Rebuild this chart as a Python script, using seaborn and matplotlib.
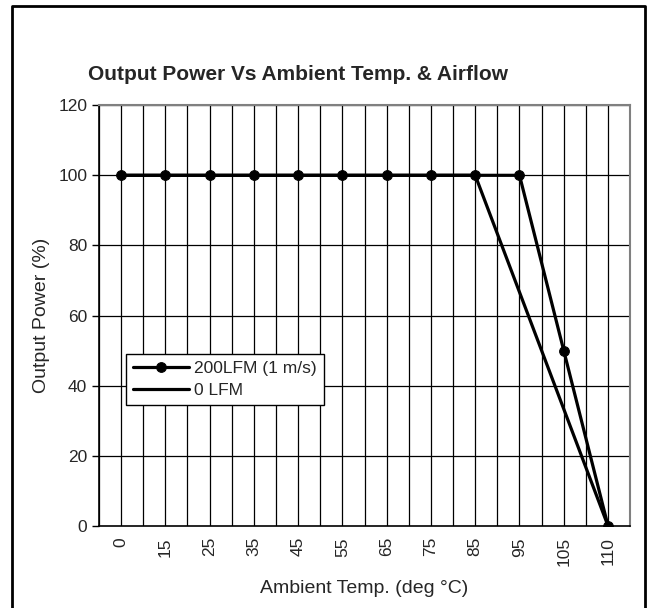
import numpy as np
import pandas as pd
import matplotlib
matplotlib.use("Agg")
import matplotlib.pyplot as plt
import seaborn as sns

temps = ["0", "15", "25", "35", "45", "55", "65", "75", "85", "95", "105", "110"]
power_200lfm = [100, 100, 100, 100, 100, 100, 100, 100, 100, 100, 50, 0]
power_0lfm = [100, 100, 100, 100, 100, 100, 100, 100, 100, np.nan, np.nan, 0]


def build_frame():
    idx = np.arange(len(temps))
    df1 = pd.DataFrame({"pos": idx, "power": power_200lfm, "series": "200LFM (1 m/s)"})
    df2 = pd.DataFrame({"pos": idx, "power": power_0lfm, "series": "0 LFM"}).dropna()
    return df1, df2


def plot_data(df1, df2):
    sns.set_style("white")
    plt.rcParams["font.family"] = ["Liberation Sans", "DejaVu Sans"]
    fig = plt.figure(figsize=(6.51, 6.08), dpi=100)
    ax = fig.add_axes([0.152, 0.135, 0.816, 0.692])

    sns.lineplot(data=df1, x="pos", y="power", ax=ax, color="black", lw=2.3,
                 marker="o", markersize=7, markeredgecolor="black",
                 label="200LFM (1 m/s)", zorder=4)
    sns.lineplot(data=df2, x="pos", y="power", ax=ax, color="black", lw=2.3,
                 label="0 LFM", zorder=3)

    n = len(temps)
    ax.set_xlim(-0.5, n - 0.5)
    ax.set_ylim(0, 120)
    ax.set_yticks(range(0, 121, 20))
    ax.set_xticks(np.arange(n))
    ax.set_xticklabels(temps, rotation=90, fontsize=12.5)
    ax.set_xticks(np.arange(-0.5, n, 1.0), minor=True)
    ax.tick_params(axis="x", which="major", length=0, pad=8)
    ax.tick_params(axis="x", which="minor", length=5, width=1, direction="out", color="black")
    ax.tick_params(axis="y", length=5, width=1, direction="out", labelsize=12.5, color="black", left=True)

    for x in np.arange(-0.5, n, 0.5):
        ax.axvline(x, color="black", lw=0.9, zorder=1)
    for y in range(20, 121, 20):
        ax.axhline(y, color="black", lw=0.9, zorder=1)

    for s in ["left", "bottom"]:
        ax.spines[s].set_color("black")
        ax.spines[s].set_linewidth(1.2)
    for s in ["top", "right"]:
        ax.spines[s].set_visible(True)
        ax.spines[s].set_color("#808080")
        ax.spines[s].set_linewidth(1.5)

    ax.set_xlabel("Ambient Temp. (deg °C)", fontsize=14, labelpad=10)
    ax.set_ylabel("Output Power (%)", fontsize=14, labelpad=6)
    fig.text(0.135, 0.877, "Output Power Vs Ambient Temp. & Airflow",
             fontsize=15, fontweight="bold", va="center")

    leg = ax.legend(loc="upper left", bbox_to_anchor=(0.035, 0.43), fontsize=12.5,
                    frameon=True, fancybox=False, framealpha=1, edgecolor="black",
                    handlelength=3.2, handletextpad=0.3, borderpad=0.4, labelspacing=0.4)
    leg.get_frame().set_linewidth(1.0)

    # outer chart frame, open at the bottom edge like the source
    fig.add_artist(plt.Line2D([0.018, 0.018, 0.991, 0.991], [0.0, 0.99, 0.99, 0.0],
                              transform=fig.transFigure, color="black", lw=2))
    fig.savefig("out.png", dpi=100)


def main():
    df1, df2 = build_frame()
    plot_data(df1, df2)


if __name__ == "__main__":
    main()
